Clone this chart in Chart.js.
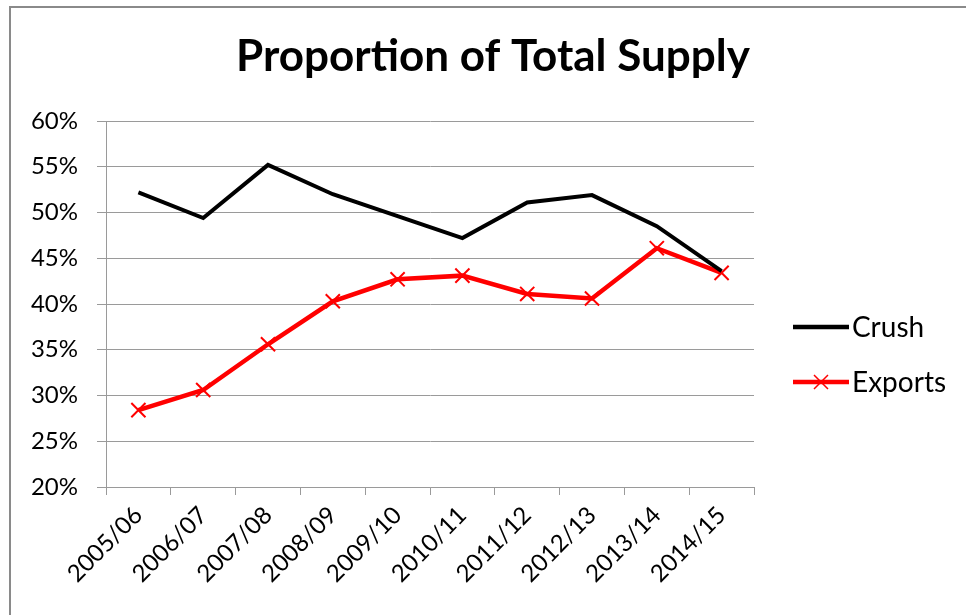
<!DOCTYPE html>
<html>
<head>
<meta charset="utf-8">
<script src="https://cdn.jsdelivr.net/npm/chart.js@4/dist/chart.umd.min.js"></script>
<style>
  html, body { margin: 0; padding: 0; background: #fff; }
  #wrap { width: 966px; height: 615px; position: relative; }
</style>
</head>
<body>
<div id="wrap"><canvas id="chart"></canvas></div>
<script>
const TITLE = "Proportion of Total Supply";
const SEASONS = ["2005/06", "2006/07", "2007/08", "2008/09", "2009/10",
  "2010/11", "2011/12", "2012/13", "2013/14", "2014/15"];
const CRUSH = [52.2, 49.4, 55.2, 52.0, 49.6, 47.2, 51.1, 51.9, 48.5, 43.6];
const EXPORTS = [28.4, 30.6, 35.6, 40.3, 42.7, 43.1, 41.1, 40.6, 46.1, 43.4];
const Y_MIN = 20;
const Y_MAX = 60;
const Y_STEP = 5;

const FONT = "Lato, 'Open Sans', sans-serif";
const GRID = "#9a9a9a";

// frame, title and legend drawn around the plot like the original sheet
const decor = {
  id: "decor",
  afterDraw(chart) {
    const ctx = chart.ctx;
    ctx.save();
    ctx.strokeStyle = "#8a8a8a";
    ctx.lineWidth = 2;
    ctx.beginPath();
    ctx.moveTo(10, 615);
    ctx.lineTo(10, 7);
    ctx.lineTo(966, 7);
    ctx.stroke();

    ctx.fillStyle = "#000";
    ctx.font = "bold 44px " + FONT;
    ctx.textAlign = "center";
    ctx.textBaseline = "alphabetic";
    ctx.fillText(TITLE, 493, 71);

    const rows = [327, 382];
    chart.data.datasets.forEach((ds, i) => {
      const y = rows[i];
      ctx.strokeStyle = ds.borderColor;
      ctx.lineWidth = 4.5;
      ctx.beginPath();
      ctx.moveTo(793, y);
      ctx.lineTo(849, y);
      ctx.stroke();
      if (ds.pointStyle === "crossRot") {
        ctx.lineWidth = 1.5;
        ctx.beginPath();
        ctx.moveTo(814, y - 7);
        ctx.lineTo(828, y + 7);
        ctx.moveTo(828, y - 7);
        ctx.lineTo(814, y + 7);
        ctx.stroke();
      }
      ctx.fillStyle = "#000";
      ctx.font = "28px " + FONT;
      ctx.textAlign = "left";
      ctx.textBaseline = "middle";
      ctx.fillText(ds.label, 852, y + 1);
    });
    ctx.restore();
  },
};

new Chart(document.getElementById("chart"), {
  type: "line",
  data: {
    labels: SEASONS,
    datasets: [
      {
        label: "Crush",
        data: CRUSH,
        borderColor: "#000000",
        borderWidth: 4,
        pointRadius: 0,
        pointHoverRadius: 0,
        tension: 0,
      },
      {
        label: "Exports",
        data: EXPORTS,
        borderColor: "#ff0000",
        backgroundColor: "#ff0000",
        borderWidth: 4.5,
        pointStyle: "crossRot",
        pointRadius: 10,
        pointBorderWidth: 2,
        pointBorderColor: "#ff0000",
        tension: 0,
      },
    ],
  },
  options: {
    responsive: true,
    maintainAspectRatio: false,
    animation: false,
    layout: { padding: { top: 121, right: 212, left: 0, bottom: 0 } },
    plugins: {
      legend: { display: false },
      title: { display: false },
      tooltip: { enabled: false },
    },
    scales: {
      x: {
        offset: true,
        afterFit: (s) => { s.height = 128; },
        grid: {
          offset: true,
          drawOnChartArea: false,
          color: GRID,
          tickLength: 8,
        },
        border: { color: GRID, width: 1 },
        ticks: {
          color: "#000",
          font: { family: FONT, size: 24 },
          maxRotation: 45,
          minRotation: 45,
          padding: 6,
        },
      },
      y: {
        min: Y_MIN,
        max: Y_MAX,
        afterFit: (s) => { s.width = 106; },
        grid: { color: GRID, tickLength: 9, lineWidth: 1 },
        border: { color: GRID, width: 1 },
        ticks: {
          stepSize: Y_STEP,
          color: "#000",
          padding: 19,
          font: { family: FONT, size: 24 },
          callback: (v) => v + "%",
        },
      },
    },
  },
  plugins: [decor],
});
</script>
</body>
</html>
